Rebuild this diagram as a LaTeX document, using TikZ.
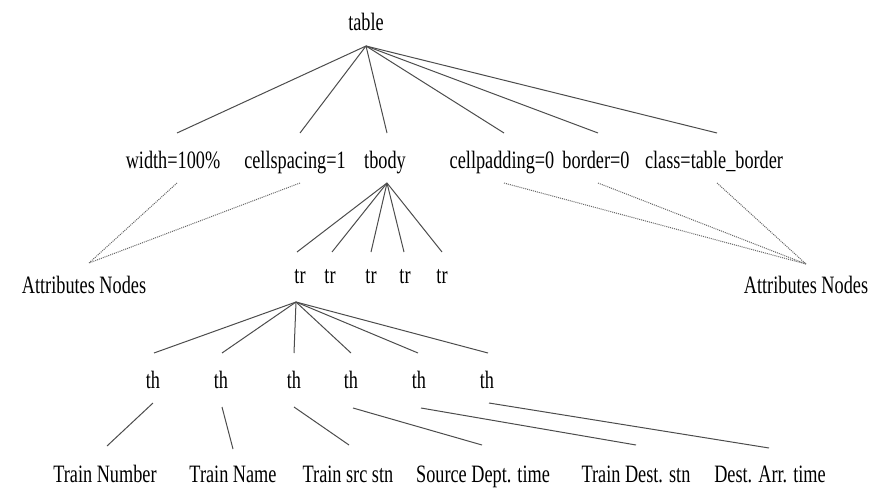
\documentclass[tikz,border=0pt]{standalone}
\usepackage{fontspec}
\setmainfont{Liberation Serif}[FakeStretch=0.73]
\begin{document}
\begin{tikzpicture}[x=1pt,y=-1pt,
  lbl/.style={anchor=base, inner sep=0pt, font=\fontsize{25}{25}\selectfont, text=black},
  edge/.style={draw=black!70, line width=1pt},
  attr/.style={draw=black!60, line width=1pt, dash pattern=on 1pt off 1pt}]
\useasboundingbox (0,0) rectangle (869,500);
% texts
\node[lbl] (table) at (366,31) {table};
\node[lbl] (w)  at (173,168) {width=100\%};
\node[lbl] (cs) at (295,168) {cellspacing=1};
\node[lbl] (tb) at (385,168) {tbody};
\node[lbl] (cp) at (502,168) {cellpadding=0};
\node[lbl] (bo) at (596,168) {border=0};
\node[lbl] (cl) at (714,168) {class=table\_border};
\node[lbl] (aL) at (84,293) {Attributes Nodes};
\node[lbl] (aR) at (806,293) {Attributes Nodes};
\node[lbl] (tr1) at (300,283) {tr};
\node[lbl] (tr2) at (330,283) {tr};
\node[lbl] (tr3) at (371,283) {tr};
\node[lbl] (tr4) at (405,283) {tr};
\node[lbl] (tr5) at (442,283) {tr};
\node[lbl] (th1) at (153,388) {th};
\node[lbl] (th2) at (221,388) {th};
\node[lbl] (th3) at (294,388) {th};
\node[lbl] (th4) at (351,388) {th};
\node[lbl] (th5) at (419,388) {th};
\node[lbl] (th6) at (487,388) {th};
\node[lbl] (l1) at (105,482) {Train Number};
\node[lbl] (l2) at (233,482) {Train Name};
\node[lbl] (l3) at (348,482) {Train src stn};
\node[lbl] (l4) at (483,482) {Source Dept. time};
\node[lbl] (l5) at (636,482) {Train Dest. stn};
\node[lbl] (l6) at (770,482) {Dest. Arr. time};
% joints
\coordinate (table-b) at (366,46);
\coordinate (w-t) at (177,133);  \coordinate (w-b) at (177,183);
\coordinate (cs-t) at (300,133); \coordinate (cs-b) at (300,183);
\coordinate (tb-t) at (387,133); \coordinate (tb-b) at (387,183);
\coordinate (cp-t) at (504,133); \coordinate (cp-b) at (504,183);
\coordinate (bo-t) at (598,133); \coordinate (bo-b) at (598,183);
\coordinate (cl-t) at (717,133); \coordinate (cl-b) at (717,183);
\coordinate (aL-t) at (89,263);  \coordinate (aR-t) at (806,264);
\coordinate (tr1-t) at (297,252); \coordinate (tr2-t) at (332,252);
\coordinate (tr3-t) at (371,252); \coordinate (tr4-t) at (404,252);
\coordinate (tr5-t) at (442,252); \coordinate (tr1-b) at (296,302);
\coordinate (th1-t) at (154,353); \coordinate (th1-b) at (153,403);
\coordinate (th2-t) at (222,353); \coordinate (th2-b) at (222,407);
\coordinate (th3-t) at (294,353); \coordinate (th3-b) at (294,407);
\coordinate (th4-t) at (351,353); \coordinate (th4-b) at (353,408);
\coordinate (th5-t) at (418,353); \coordinate (th5-b) at (421,408);
\coordinate (th6-t) at (488,353); \coordinate (th6-b) at (489,403);
\coordinate (l1-t) at (107,446); \coordinate (l2-t) at (233,449);
\coordinate (l3-t) at (349,445); \coordinate (l4-t) at (482,445);
\coordinate (l5-t) at (636,445); \coordinate (l6-t) at (769,448);
% table children
\foreach \c in {w,cs,tb,cp,bo,cl} \draw[edge] (table-b) -- (\c-t);
% attributes
\foreach \c in {w,cs} \draw[attr] (\c-b) -- (aL-t);
\foreach \c in {cp,bo,cl} \draw[attr] (\c-b) -- (aR-t);
% tbody children
\foreach \c in {tr1,tr2,tr3,tr4,tr5} \draw[edge] (tb-b) -- (\c-t);
% tr children
\foreach \c in {th1,th2,th3,th4,th5,th6} \draw[edge] (tr1-b) -- (\c-t);
% th to leaves
\draw[edge] (th1-b) -- (l1-t);
\draw[edge] (th2-b) -- (l2-t);
\draw[edge] (th3-b) -- (l3-t);
\draw[edge] (th4-b) -- (l4-t);
\draw[edge] (th5-b) -- (l5-t);
\draw[edge] (th6-b) -- (l6-t);
\end{tikzpicture}
\end{document}
